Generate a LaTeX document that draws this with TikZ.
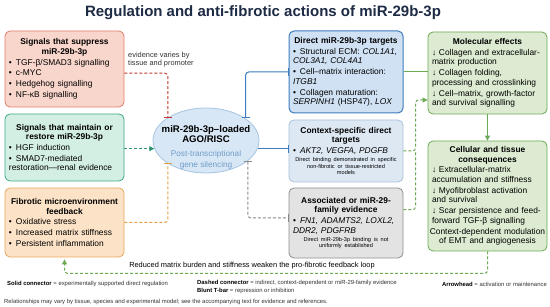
\documentclass[tikz,border=0pt]{standalone}
\usepackage{fontspec}
\setmainfont{Liberation Sans}
\usepackage{xcolor}
\usetikzlibrary{arrows.meta,calc,positioning,shapes.geometric}

\definecolor{titleblue}{HTML}{1E2B45}
\definecolor{supfill}{HTML}{F9D6CC}
\definecolor{supdraw}{HTML}{E27D6B}
\definecolor{mntfill}{HTML}{D3EEE3}
\definecolor{mntdraw}{HTML}{3DAA84}
\definecolor{fbfill}{HTML}{FCE2C6}
\definecolor{fbdraw}{HTML}{E9A75A}
\definecolor{riscfill}{HTML}{D8E7F5}
\definecolor{riscdraw}{HTML}{A5C4E3}
\definecolor{risctext}{HTML}{6F9DC9}
\definecolor{dirfill}{HTML}{CFE1F3}
\definecolor{dirdraw}{HTML}{3C7DBD}
\definecolor{ctxfill}{HTML}{DDE8F3}
\definecolor{ctxdraw}{HTML}{A9C1DA}
\definecolor{asfill}{HTML}{E3E3E3}
\definecolor{asdraw}{HTML}{8E8E8E}
\definecolor{effill}{HTML}{DCEBD1}
\definecolor{efdraw}{HTML}{6DAA55}
\definecolor{redline}{HTML}{C0392B}
\definecolor{tealline}{HTML}{2E9470}
\definecolor{orgline}{HTML}{E3A04A}
\definecolor{greyline}{HTML}{8A8A8A}
\definecolor{greenline}{HTML}{6DAA55}
\definecolor{legtextc}{HTML}{333333}

\newcommand{\hdr}[1]{{\centering\bfseries #1\par}}
\newcommand{\bl}{\hangindent=7pt\hangafter=1\makebox[7pt][l]{\textbullet}}
\newcommand{\dn}{\hangindent=7pt\hangafter=1\makebox[7pt][l]{↓}}
\newcommand{\smallnote}[1]{{\centering\fontsize{5.6}{6.6}\selectfont #1\par}}

\begin{document}
\begin{tikzpicture}[x=1pt, y=-1pt,
  every node/.style={font=\fontsize{8.4}{9.6}\selectfont\setlength\parskip{1.2pt}},
  box/.style={draw, rounded corners=5pt, line width=0.8pt, inner sep=4pt, text width=#1, align=left},
  box/.default=111pt,
  conn/.style={line width=1pt, rounded corners=3pt},
  dashconn/.style={conn, dash pattern=on 3pt off 2pt},
  tbar/.style={-{Bar[width=8pt]}},
  tbars/.style={{Bar[width=8pt]}-{Bar[width=8pt]}},
  arr/.style={-{Triangle[length=5pt,width=5pt]}},
  legtext/.style={font=\fontsize{5.9}{7.4}\selectfont, text=legtextc, inner sep=0pt, align=left}]
  \fill[white] (0,0) rectangle (550,307);
  \useasboundingbox (0,0) rectangle (550,307);
  \node[font=\fontsize{15}{17}\selectfont\bfseries, text=titleblue] (title) at (263,13)
    {Regulation and anti-fibrotic actions of miR-29b-3p};

  % left column: upstream signals
  \node[box, fill=supfill, draw=supdraw, minimum height=76pt] (sup) at (64.5,69) {%
    \hdr{Signals that suppress\\miR-29b-3p}
    \bl TGF-β/SMAD3 signalling\par
    \bl c-MYC\par
    \bl Hedgehog signalling\par
    \bl NF-κB signalling};
  \node[box, fill=mntfill, draw=mntdraw, minimum height=67pt] (mnt) at (64.5,147.5) {%
    \hdr{Signals that maintain or\\restore miR-29b-3p}
    \bl HGF induction\par
    \bl SMAD7-mediated\\restoration—renal evidence};
  \node[box, fill=fbfill, draw=fbdraw, minimum height=69pt] (fb) at (64.5,222.5) {%
    \hdr{Fibrotic microenvironment\\feedback}
    \bl Oxidative stress\par
    \bl Increased matrix stiffness\par
    \bl Persistent inflammation};

  % centre: loaded complex
  \node[ellipse, draw=riscdraw, fill=riscfill, line width=0.8pt, minimum width=106pt,
    minimum height=65pt] (risc) at (206,140.5) {};
  \node[align=center, inner sep=0pt, font=\fontsize{9.6}{10.6}\selectfont\bfseries] (risctxt) at (206,147)
    {miR-29b-3p–loaded\\AGO/RISC\\[3pt]
     \mdseries\fontsize{8.2}{9}\selectfont\color{risctext}Post-transcriptional\\
     \mdseries\fontsize{8.2}{9}\selectfont\color{risctext}gene silencing};
  \node[anchor=north west, align=left, font=\fontsize{7.4}{8.4}\selectfont, text=legtextc,
    inner sep=0pt] (evid) at (128,52) {evidence varies by\\tissue and promoter};

  % target column
  \node[box=106pt, fill=dirfill, draw=dirdraw, line width=1pt, minimum height=82pt] (dir) at (346,72) {%
    \hdr{Direct miR-29b-3p targets}
    \bl Structural ECM: \textit{COL1A1,}\\\textit{COL3A1, COL4A1}\par
    \bl Cell–matrix interaction:\\\textit{ITGB1}\par
    \bl Collagen maturation:\\\textit{SERPINH1} (HSP47), \textit{LOX}};
  \node[box=106pt, fill=ctxfill, draw=ctxdraw, minimum height=62pt] (ctx) at (346,151) {%
    \hdr{Context-specific direct\\targets}
    \bl \textit{AKT2, VEGFA, PDGFB}\par
    \smallnote{Direct binding demonstrated in specific\\non-fibrotic or tissue-restricted\\models}};
  \node[box=106pt, fill=asfill, draw=asdraw, minimum height=70pt] (assoc) at (346,223) {%
    \hdr{Associated or miR-29-\\family evidence}
    \bl \textit{FN1, ADAMTS2, LOXL2,}\\\textit{DDR2, PDGFRB}\par
    \smallnote{Direct miR-29b-3p binding is not\\uniformly established}};

  % effect column
  \node[box, fill=effill, draw=efdraw, minimum height=82pt] (mol) at (487.5,73) {%
    \hdr{Molecular effects}
    \dn Collagen and extracellular-\\matrix production\par
    \dn Collagen folding,\\processing and crosslinking\par
    \dn Cell–matrix, growth-factor\\and survival signalling};
  \node[box, fill=effill, draw=efdraw, minimum height=110pt] (cell) at (487.5,196) {%
    \hdr{Cellular and tissue\\consequences}
    \dn Extracellular-matrix\\accumulation and stiffness\par
    \dn Myofibroblast activation\\and survival\par
    \dn Scar persistence and feed-\\forward TGF-β signalling\par
    {\centering\makebox[\linewidth][c]{Context-dependent modulation}\\of EMT and angiogenesis\par}};

  % connectors into the complex
  \draw[dashconn, redline, tbar] (sup.-4) -| (risc.149);
  \draw[dashconn, tealline, arr] (mnt.east |- risc.189) -- (risc.189);
  \draw[dashconn, orgline, tbar] (fb.east) -| (risc.211);
  % connectors to targets
  \draw[conn, dirdraw, tbars] (risc.29) |- (dir.west);
  \draw[conn, dirdraw, tbar] (risc.-9) -- (risc.-9 -| ctx.west);
  \draw[dashconn, greyline, tbars] (risc.334) |- (assoc.175);
  % connectors to effects
  \coordinate (mid) at ($(dir.east)!0.5!(mol.west)$);
  \coordinate (molin) at ([yshift=-27pt]mol.west);
  \draw[conn, greenline] (dir.east) -- (dir.east -| mol.west);
  \draw[dashconn, greenline, arr] (ctx.east) -| (mid |- molin) -- (molin);
  \draw[dashconn, greenline] (assoc.13) -| (mid |- ctx.east);
  \draw[conn, greenline, arr] (mol) -- (cell);
  \draw[dashconn, greenline, arr, shorten >=2pt] (cell.south) -- ++(0,22) -| (fb.south);
  \node[font=\fontsize{7.4}{8.4}\selectfont, inner sep=0pt] (looptxt) at (252,266)
    {Reduced matrix burden and stiffness weaken the pro-fibrotic feedback loop};

  % legend
  \node[legtext, anchor=west] (leg1) at (7,284)
    {\textbf{\color{black}Solid connector} = experimentally supported direct regulation};
  \node[legtext, anchor=north west] (leg2) at (197,280.5)
    {\textbf{\color{black}Dashed connector} = indirect, context-dependent or miR-29-family evidence\\
     \textbf{\color{black}Blunt T-bar} = repression or inhibition};
  \node[legtext, anchor=east] (leg3) at (547,284)
    {\textbf{\color{black}Arrowhead} = activation or maintenance};
  \node[legtext, anchor=west] (foot) at (4,302)
    {Relationships may vary by tissue, species and experimental model; see the accompanying text for evidence and references.};
\end{tikzpicture}
\end{document}
